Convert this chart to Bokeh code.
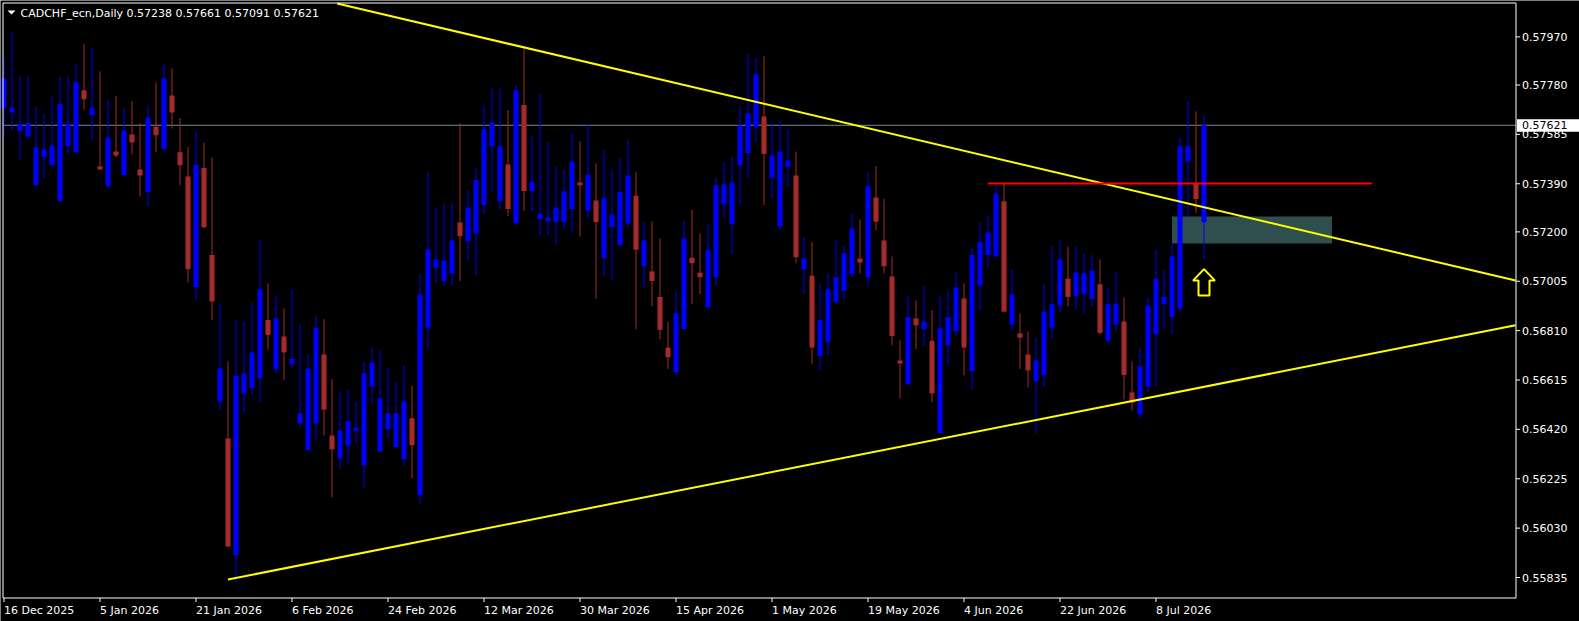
import numpy as np
from bokeh.plotting import figure
from bokeh.models import Range1d
from bokeh.core.properties import value
from bokeh.embed import file_html
from bokeh.resources import INLINE

symbol = "CADCHF_ecn,Daily"

# daily candles, prices in points (1 point = 0.00001)
open_pts = [57688, 57671, 57599, 57577, 57384, 57497, 57464, 57321, 57540, 57514,
            57759, 57661, 57458, 57380, 57517, 57425, 57585, 57446, 57357, 57615,
            57528, 57739, 57514, 57419, 56982, 57452, 57109, 56530, 56384, 55923,
            56562, 56583, 56622, 56852, 56657, 56787, 56677, 56444, 56338, 56444,
            56716, 56396, 56305, 56356, 56414, 56278, 56589, 56332, 56421, 56350,
            56302, 56464, 56160, 56822, 57058, 57006, 57036, 57237, 57163, 57194,
            57306, 57538, 57321, 57466, 57234, 57701, 57361, 57251, 57242, 57239,
            57239, 57290, 57395, 57284, 57324, 57097, 57218, 57148, 57233, 57343,
            57064, 57044, 56943, 56743, 56646, 56816, 57098, 57039, 56903, 57021,
            57309, 57230, 57463, 57511, 57614, 57656, 57414, 57221, 57457, 57423,
            57052, 57027, 56710, 56764, 56922, 56967, 57033, 57095, 57021, 57336,
            57166, 57024, 56692, 56598, 56858, 56816, 56770, 56405, 56752, 56807,
            56937, 56650, 56988, 57109, 57103, 57321, 56834, 56799, 56716, 56610,
            56634, 56822, 56909, 57015, 56946, 56955, 56935, 56993, 56770, 56834,
            56846, 56566, 56480, 56589, 56795, 56915, 56864, 56897, 57478, 57390,
            57238]
high_pts = [57890, 57987, 57815, 57815, 57695, 57665, 57736, 57815, 57812, 57862,
            57942, 57925, 57834, 57721, 57736, 57688, 57717, 57630, 57701, 57789,
            57865, 57845, 57650, 57535, 57597, 57553, 57494, 56913, 56689, 56852,
            56845, 56920, 57169, 56996, 56950, 56897, 56973, 56832, 56716, 56870,
            56855, 56618, 56568, 56576, 56530, 56686, 56743, 56731, 56663, 56607,
            56672, 56591, 57033, 57438, 57293, 57313, 57313, 57630, 57363, 57452,
            57701, 57771, 57766, 57680, 57779, 57925, 57577, 57744, 57553, 57460,
            57446, 57588, 57558, 57626, 57470, 57522, 57448, 57490, 57565, 57435,
            57237, 57242, 57174, 56846, 56965, 57245, 57286, 57194, 57233, 57413,
            57475, 57499, 57701, 57902, 57889, 57895, 57629, 57638, 57605, 57517,
            57179, 57159, 56996, 57036, 57169, 57142, 57272, 57249, 57435, 57460,
            57330, 57103, 56772, 56950, 56929, 56985, 56891, 56950, 56965, 57039,
            56996, 57139, 57237, 57263, 57389, 57395, 57052, 56878, 56807, 56782,
            56996, 57142, 57166, 57142, 57142, 57115, 57109, 57091, 56981, 57044,
            56941, 56689, 56743, 56941, 57130, 57047, 57154, 57574, 57715, 57676,
            57661]
low_pts = [57577, 57600, 57487, 57567, 57382, 57411, 57457, 57320, 57506, 57513,
           57683, 57567, 57445, 57374, 57494, 57422, 57506, 57340, 57302, 57514,
           57523, 57608, 57384, 57000, 56935, 57215, 56852, 56497, 55956, 55817,
           56486, 56557, 56527, 56736, 56641, 56615, 56659, 56429, 56337, 56380,
           56396, 56152, 56263, 56285, 56368, 56187, 56524, 56331, 56384, 56349,
           56278, 56228, 56124, 56742, 56999, 56988, 56988, 57006, 57086, 57026,
           57271, 57357, 57289, 57263, 57227, 57283, 57278, 57188, 57188, 57148,
           57212, 57200, 57182, 57257, 56935, 57026, 57012, 57142, 57218, 56816,
           56976, 56906, 56776, 56659, 56634, 56815, 56915, 56955, 56894, 56988,
           57257, 57112, 57309, 57414, 57553, 57306, 57333, 57206, 57381, 57076,
           56955, 56678, 56653, 56713, 56915, 56931, 57021, 57036, 56982, 57206,
           57036, 56752, 56542, 56597, 56737, 56749, 56527, 56404, 56677, 56789,
           56634, 56577, 56891, 57061, 57100, 56882, 56811, 56659, 56586, 56405,
           56589, 56779, 56882, 56906, 56894, 56879, 56905, 56795, 56761, 56807,
           56538, 56495, 56465, 56568, 56589, 56819, 56795, 56882, 57259, 57274,
           57091]
close_pts = [57806, 57691, 57626, 57630, 57534, 57525, 57540, 57706, 57627, 57791,
             57724, 57688, 57446, 57573, 57502, 57600, 57553, 57423, 57652, 57582,
             57806, 57671, 57463, 57052, 57464, 57218, 56925, 56660, 55957, 56633,
             56641, 56724, 56973, 56792, 56858, 56724, 56698, 56483, 56660, 56822,
             56498, 56341, 56415, 56452, 56427, 56641, 56684, 56542, 56483, 56483,
             56530, 56358, 56953, 57130, 57091, 57086, 57166, 57183, 57296, 57405,
             57605, 57632, 57538, 57290, 57759, 57361, 57399, 57272, 57257, 57296,
             57360, 57478, 57384, 57426, 57239, 57333, 57269, 57357, 57423, 57129,
             57166, 57006, 56813, 56705, 56878, 57174, 57076, 57021, 57127, 57384,
             57387, 57395, 57620, 57668, 57822, 57508, 57502, 57517, 57482, 57100,
             57095, 56743, 56851, 56973, 57021, 57115, 57213, 57079, 57380, 57240,
             57064, 56789, 56680, 56863, 56831, 56845, 56562, 56819, 56863, 56981,
             56743, 57109, 57159, 57198, 57352, 56885, 56953, 56782, 56653, 56692,
             56885, 56914, 57091, 56943, 57039, 57036, 57047, 56801, 56914, 56917,
             56634, 56526, 56669, 56909, 57015, 56943, 57103, 57538, 57538, 57330,
             57621]

# one date label every 12 bars
date_labels = ["16 Dec 2025", "5 Jan 2026", "21 Jan 2026", "6 Feb 2026", "24 Feb 2026",
               "12 Mar 2026", "30 Mar 2026", "15 Apr 2026", "1 May 2026", "19 May 2026",
               "4 Jun 2026", "22 Jun 2026", "8 Jul 2026"]
price_ticks = [0.57970, 0.57780, 0.57585, 0.57390, 0.57200, 0.57005,
               0.56810, 0.56615, 0.56420, 0.56225, 0.56030, 0.55835]

# objects drawn on the chart (bar index, price)
upper_trend_bars = [41.65, 188.94]
upper_trend_prices = [0.58102, 0.57008]
lower_trend_bars = [28.0, 188.94]
lower_trend_prices = [0.55827, 0.56831]
level_bars = [123.0, 171.0]
level_price = 0.57391
zone_bars = [146.0, 166.0]
zone_prices = [0.57154, 0.57261]
arrow_bar = 150
arrow_price = 0.57053

o = np.array(open_pts) / 1e5
h = np.array(high_pts) / 1e5
l = np.array(low_pts) / 1e5
c = np.array(close_pts) / 1e5
idx = np.arange(len(o))
last_price = c[-1]

BULL = "#0000ff"
BEAR = "#a52a2a"
colors = [BULL if cc >= oo else BEAR for oo, cc in zip(o, c)]
FONT = "DejaVu Sans"

# canvas geometry: 8 px per bar, bar 0 centred at x = 3.5 px
W, H = 1579, 621
PX_BAR = 1 / 8
PX_PRICE = 3.9493e-5
X_LO = -3.5 * PX_BAR
X_HI = X_LO + W * PX_BAR
Y_HI = 0.57970 + 36.4 * PX_PRICE
Y_LO = Y_HI - H * PX_PRICE


def sx(px):
    return X_LO + px * PX_BAR


def sy(py):
    return Y_HI - py * PX_PRICE


# chart box
CH_L, CH_R = sx(2.5), sx(1515.5)
CH_T, CH_B = sy(2.5), sy(597.5)

p = figure(width=W, height=H, x_range=Range1d(X_LO, X_HI), y_range=Range1d(Y_LO, Y_HI),
           x_axis_location=None, y_axis_location=None,
           output_backend="svg", toolbar_location=None, min_border=0,
           background_fill_color="black", border_fill_color="black", outline_line_color=None)
p.grid.visible = False

# zone behind everything
p.quad(left=[zone_bars[0]], right=[zone_bars[1]], bottom=[zone_prices[0]], top=[zone_prices[1]],
       fill_color="#2f4f4f", line_color=None)

# bid line
p.segment(x0=[CH_L], y0=[last_price], x1=[CH_R], y1=[last_price], line_color="#778899", line_width=1)

# candles
p.segment(x0=idx, y0=l, x1=idx, y1=h, line_color=colors, line_width=1)
p.vbar(x=idx, width=5 * PX_BAR, top=np.maximum(o, c), bottom=np.minimum(o, c),
       fill_color=colors, line_color=None)

# trend lines and level
p.line(upper_trend_bars, upper_trend_prices, line_color="#ffff00", line_width=2)
p.line(lower_trend_bars, lower_trend_prices, line_color="#ffff00", line_width=2)
p.line(level_bars, [level_price, level_price], line_color="#ff0000", line_width=2)

# up arrow under the last candle (shape in pixels)
arrow_dx = [0, 11, 5.5, 5.5, -5.5, -5.5, -11]
arrow_dy = [0, 11.5, 11.5, 26.5, 26.5, 11.5, 11.5]
p.patch([arrow_bar + dx * PX_BAR for dx in arrow_dx],
        [arrow_price - dy * PX_PRICE for dy in arrow_dy],
        fill_color="black", line_color="#ffff00", line_width=2)

# chart frame
p.quad(left=[CH_L], right=[CH_R], bottom=[CH_B], top=[CH_T],
       fill_color=None, line_color="white", line_width=1)

# price scale on the right
p.segment(x0=[CH_R] * len(price_ticks), y0=price_ticks,
          x1=[CH_R + 4 * PX_BAR] * len(price_ticks), y1=price_ticks,
          line_color="white", line_width=1)
p.text(x=[CH_R] * len(price_ticks), y=price_ticks, text=[f"{v:.5f}" for v in price_ticks],
       x_offset=6, text_align="left", text_baseline="middle", text_color="white",
       text_font=value(FONT), text_font_size="11px")

# current price tag
p.quad(left=[CH_R + 1 * PX_BAR], right=[X_HI], bottom=[last_price - 6.5 * PX_PRICE],
       top=[last_price + 6 * PX_PRICE], fill_color="white", line_color=None)
p.text(x=[CH_R], y=[last_price], text=[f"{last_price:.5f}"], x_offset=6,
       text_align="left", text_baseline="middle", text_color="black",
       text_font=value(FONT), text_font_size="11px")

# time scale at the bottom
tick_bars = [12 * k for k in range(len(date_labels))]
p.segment(x0=tick_bars, y0=[CH_B] * len(tick_bars), x1=tick_bars,
          y1=[CH_B - 4 * PX_PRICE] * len(tick_bars), line_color="white", line_width=1)
p.text(x=tick_bars, y=[CH_B] * len(tick_bars), text=date_labels, y_offset=6,
       text_align="left", text_baseline="top", text_color="white",
       text_font=value(FONT), text_font_size="11px")

# header
p.patch([sx(7), sx(15), sx(11)], [sy(10), sy(10), sy(14)], fill_color="white", line_color=None)
header = f"{symbol}  {o[-1]:.5f} {h[-1]:.5f} {l[-1]:.5f} {c[-1]:.5f}"
p.text(x=[sx(20)], y=[sy(12.5)], text=[header], text_align="left", text_baseline="middle",
       text_color="white", text_font=value(FONT), text_font_size="11px")

open("out.html", "w").write(file_html(p, INLINE))
